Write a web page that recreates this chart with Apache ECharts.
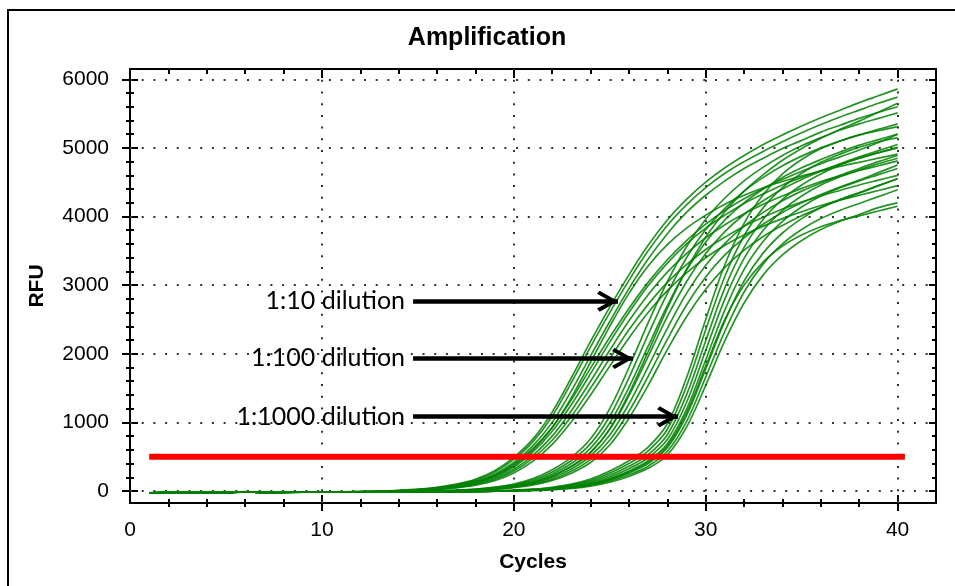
<!DOCTYPE html>
<html><head><meta charset="utf-8">
<script src="https://cdn.jsdelivr.net/npm/echarts@6/dist/echarts.min.js"></script>
<style>html,body{margin:0;padding:0;background:#fff}#c{width:955px;height:586px}</style>
</head><body><div id="c"></div>
<script>
// ---------- data ----------
const cycles = [1,2,3,4,5,6,7,8,9,10,11,12,13,14,15,16,17,18,19,20,21,22,23,24,25,26,27,28,29,30,31,32,33,34,35,36,37,38,39,40];

// 1:10 dilution
const g1a = [-30,-22,-18,-24,-22,-12,-20,-18,-16,-15,-13,-10,-4,8,26,54,100,172,295,490,760,1150,1650,2180,2680,3150,3580,3950,4250,4500,4710,4890,5050,5190,5320,5440,5550,5660,5760,5860];
const g1b = [-28,-20,-17,-22,-21,-10,-19,-17,-15,-14,-12,-9,-5,6,22,48,90,158,272,460,720,1090,1580,2100,2600,3070,3500,3870,4170,4420,4630,4800,4950,5090,5220,5340,5450,5550,5650,5740];
const g1c = [-32,-24,-20,-23,-24,-14,-21,-19,-17,-16,-14,-12,-6,4,18,42,80,142,245,415,660,1000,1460,1970,2470,2950,3380,3750,4060,4310,4520,4700,4850,4990,5110,5230,5330,5430,5520,5600];
const g1d = [-29,-21,-19,-23,-20,-11,-18,-18,-16,-14,-13,-11,-6,3,16,38,74,132,228,390,620,930,1330,1790,2240,2660,3040,3370,3650,3890,4090,4260,4410,4540,4660,4770,4870,4970,5080,5200];
const g1e = [-31,-23,-18,-25,-23,-13,-20,-19,-17,-15,-14,-12,-8,2,14,33,66,118,205,350,570,870,1260,1710,2170,2600,2990,3320,3600,3830,4020,4190,4330,4460,4570,4670,4760,4850,4930,5010];
const g1f = [-27,-21,-17,-21,-20,-11,-18,-16,-15,-14,-12,-10,-8,1,12,30,58,105,185,318,520,800,1170,1600,2050,2480,2860,3190,3460,3690,3880,4040,4180,4300,4410,4510,4590,4670,4740,4810];
const g1g = [-30,-23,-19,-24,-22,-13,-19,-18,-17,-15,-13,-11,-9,0,10,26,52,95,168,290,478,740,1090,1500,1930,2350,2720,3040,3300,3520,3700,3860,3990,4110,4210,4300,4380,4460,4530,4600];
const g1h = [-33,-25,-20,-25,-24,-15,-22,-20,-18,-17,-15,-13,-9,-1,8,22,46,85,150,262,435,680,1010,1400,1820,2230,2600,2920,3180,3400,3580,3730,3860,3970,4070,4160,4240,4310,4380,4450];
const g1i = [-29,-22,-18,-23,-21,-12,-20,-17,-16,-15,-13,-10,-7,3,15,36,70,126,218,372,600,920,1360,1880,2400,2880,3280,3590,3830,4020,4180,4310,4420,4510,4590,4660,4730,4790,4850,4910];

// 1:100 dilution
const g2A = [-30,-22,-19,-24,-22,-12,-20,-18,-17,-16,-14,-12,-10,-8,-4,2,12,28,56,102,180,310,490,760,1200,1800,2450,3050,3560,3960,4270,4520,4720,4890,5030,5150,5260,5350,5430,5510];
const g2B = [-28,-21,-17,-22,-20,-11,-19,-17,-15,-15,-13,-12,-11,-9,-5,0,9,24,48,90,160,278,445,690,1090,1650,2280,2880,3400,3810,4120,4370,4570,4740,4880,5000,5100,5190,5270,5350];
const g2C = [-31,-23,-20,-24,-23,-13,-21,-19,-17,-16,-15,-13,-11,-9,-6,-1,7,20,42,80,142,248,400,625,990,1510,2110,2700,3220,3630,3950,4200,4400,4570,4710,4830,4940,5040,5120,5200];
const g2D = [-29,-22,-18,-23,-21,-12,-19,-18,-16,-15,-14,-13,-12,-10,-7,-2,5,17,37,70,125,220,360,565,900,1390,1960,2540,3050,3460,3780,4030,4230,4400,4540,4660,4770,4870,4960,5050];
const g2E = [-32,-24,-20,-25,-23,-14,-21,-20,-18,-16,-15,-13,-12,-10,-8,-3,3,14,32,62,110,195,322,510,815,1270,1810,2370,2880,3290,3610,3860,4060,4230,4370,4490,4600,4700,4800,4890];
const g2F = [-28,-21,-18,-22,-21,-11,-18,-17,-16,-14,-13,-12,-12,-11,-8,-4,2,11,28,55,98,172,288,460,740,1160,1670,2210,2710,3120,3440,3690,3890,4060,4200,4320,4430,4530,4640,4750];
const g2G = [-30,-23,-19,-23,-22,-13,-20,-18,-17,-15,-14,-13,-13,-11,-9,-5,1,9,24,48,88,155,260,415,670,1060,1540,2060,2540,2940,3260,3510,3710,3870,4010,4130,4240,4340,4450,4550];
const g2H = [-31,-22,-18,-24,-22,-12,-20,-19,-16,-15,-13,-11,-10,-9,-6,-1,6,17,36,68,122,215,355,560,905,1420,2030,2660,3230,3700,4070,4370,4610,4820,4990,5140,5270,5390,5520,5650];

// 1:1000 dilution
const g3a = [-30,-22,-18,-24,-22,-12,-20,-18,-17,-16,-15,-14,-13,-12,-11,-10,-8,-4,2,12,28,55,100,175,290,440,640,980,1650,2500,3300,3900,4320,4620,4830,4990,5100,5190,5250,5310];
const g3b = [-29,-21,-17,-23,-21,-11,-19,-17,-16,-15,-14,-13,-12,-11,-10,-9,-8,-5,0,9,23,47,88,155,260,400,585,900,1530,2350,3130,3720,4130,4420,4630,4790,4910,5010,5090,5150];
const g3c = [-31,-23,-19,-25,-23,-13,-21,-19,-18,-17,-16,-15,-14,-13,-12,-11,-9,-6,-1,7,19,40,76,136,230,360,530,820,1400,2190,2960,3550,3960,4250,4460,4620,4750,4850,4930,5000];
const g3d = [-28,-22,-18,-22,-21,-12,-19,-18,-16,-15,-14,-13,-13,-12,-11,-10,-9,-6,-2,5,16,34,66,120,205,325,485,750,1290,2050,2800,3390,3800,4090,4300,4460,4580,4680,4770,4850];
const g3e = [-32,-24,-20,-24,-24,-14,-22,-20,-18,-17,-16,-15,-14,-13,-12,-11,-10,-7,-3,4,13,29,57,105,182,292,440,690,1190,1910,2640,3230,3640,3930,4140,4300,4420,4520,4610,4700];
const g3f = [-30,-22,-19,-23,-22,-12,-20,-18,-17,-16,-15,-14,-13,-12,-11,-10,-9,-7,-3,3,11,25,50,93,162,262,400,630,1100,1780,2480,3060,3470,3760,3970,4130,4250,4350,4450,4550];
const g3g = [-29,-21,-18,-23,-20,-11,-19,-17,-16,-15,-14,-14,-13,-12,-11,-10,-9,-8,-4,2,9,21,44,82,144,236,362,575,1010,1660,2330,2900,3310,3600,3810,3970,4090,4190,4290,4390];
const g3h = [-31,-23,-19,-24,-23,-13,-21,-19,-17,-16,-15,-15,-14,-13,-12,-11,-10,-8,-4,1,8,18,38,72,128,212,330,525,930,1540,2190,2740,3150,3440,3650,3810,3930,4030,4130,4200];
const g3i = [-30,-22,-18,-24,-21,-12,-20,-18,-17,-15,-14,-13,-13,-12,-11,-10,-9,-7,-3,3,12,27,53,98,170,275,420,660,1140,1820,2500,3000,3340,3570,3730,3850,3940,4010,4080,4150];

const curves = [g1a,g1b,g1c,g1d,g1e,g1f,g1g,g1h,g1i,g2A,g2B,g2C,g2D,g2E,g2F,g2G,g2H,g3a,g3b,g3c,g3d,g3e,g3f,g3g,g3h,g3i];

// threshold
const thresholdRFU = 500;
const thresholdCycles = [1, 40.38];

// annotations
const arrowLabels = ['1:10 dilution', '1:100 dilution', '1:1000 dilution'];
const arrowRFU = [2767, 1932, 1082];
const arrowStartCycle = [14.75, 14.75, 14.75];
const arrowTipCycle = [25.43, 26.21, 28.56];

// axes ticks / labels
const xLabelValues = [0, 10, 20, 30, 40];
const xMajorTicks = [10, 20, 30, 40];
const xMinorTicks = [2,4,6,8,12,14,16,18,22,24,26,28,32,34,36,38];
const xGridValues = [10, 20, 30, 40];
const yLabelValues = [0, 1000, 2000, 3000, 4000, 5000, 6000];
const yMajorTicks = [0, 1000, 2000, 3000, 4000, 5000, 6000];
const yMinorTicks = [200,400,600,800,1200,1400,1600,1800,2200,2400,2600,2800,3200,3400,3600,3800,4200,4400,4600,4800,5200,5400,5600,5800];
const yGridValues = [0, 1000, 2000, 3000, 4000, 5000, 6000];
const X_RANGE = [0, 42];
const Y_RANGE = [-175, 6150];

// ---------- chart ----------
const FONT = '"Liberation Sans", Arial, sans-serif';
const CHEVRON = 'path://M10,0L10,0M10,20L20,37.5L17.1,40L10,27.5L2.9,40L0,37.5Z';

function tickAxis(kind, pos, ticks, len, inside) {
  return {
    type: 'value', position: pos,
    min: kind === 'x' ? X_RANGE[0] : Y_RANGE[0],
    max: kind === 'x' ? X_RANGE[1] : Y_RANGE[1],
    axisLine: { show: false, onZero: false },
    axisTick: { show: true, customValues: ticks, length: len, inside: inside,
                lineStyle: { color: '#000', width: 2 } },
    axisLabel: { show: false },
    splitLine: { show: false }
  };
}

const xAxes = [
  {
    type: 'value', position: 'bottom', min: X_RANGE[0], max: X_RANGE[1],
    axisLine: { show: true, onZero: false, lineStyle: { color: '#000', width: 2 } },
    axisTick: { show: true, customValues: xMajorTicks, length: 8, inside: false,
                lineStyle: { color: '#000', width: 2 } },
    axisLabel: { show: true, customValues: xLabelValues, margin: 17, fontSize: 21,
                 fontFamily: FONT, color: '#000', formatter: v => String(v) },
    splitLine: { show: false },
    name: 'Cycles', nameLocation: 'middle', nameGap: 49,
    nameTextStyle: { fontSize: 21, fontWeight: 'bold', fontFamily: FONT, color: '#000' }
  },
  tickAxis('x', 'bottom', xMajorTicks, 8, true),
  tickAxis('x', 'bottom', xMinorTicks, 4, false),
  tickAxis('x', 'bottom', xMinorTicks, 4, true),
  tickAxis('x', 'top', xMinorTicks, 5, true),
  tickAxis('x', 'top', xMajorTicks, 9, true)
];

const yAxes = [
  {
    type: 'value', position: 'left', min: Y_RANGE[0], max: Y_RANGE[1],
    axisLine: { show: true, onZero: false, lineStyle: { color: '#000', width: 2 } },
    axisTick: { show: true, customValues: yMajorTicks, length: 8, inside: false,
                lineStyle: { color: '#000', width: 2 } },
    axisLabel: { show: true, customValues: yLabelValues, margin: 21, fontSize: 21,
                 fontFamily: FONT, color: '#000', formatter: v => String(v) },
    splitLine: { show: false },
    name: 'RFU', nameLocation: 'middle', nameGap: 82,
    nameTextStyle: { fontSize: 21, fontWeight: 'bold', fontFamily: FONT, color: '#000' }
  },
  tickAxis('y', 'left', yMajorTicks, 8, true),
  tickAxis('y', 'left', yMinorTicks, 4, false),
  tickAxis('y', 'left', yMinorTicks, 4, true),
  tickAxis('y', 'right', yMajorTicks, 7, true),
  tickAxis('y', 'right', yMinorTicks, 4, true)
];

const series = [];
series.push({
  type: 'line', data: [], silent: true, z: 1,
  markLine: {
    silent: true, z: 1, symbol: 'none', animation: false,
    label: { show: false }, emphasis: { disabled: true },
    lineStyle: { type: [2, 9.7], width: 2, color: '#333' },
    data: [
      ...yGridValues.map(v => ({ yAxis: v })),
      ...xGridValues.map(v => ({ xAxis: v }))
    ]
  }
});
curves.forEach(vals => {
  series.push({
    type: 'line', silent: true, z: 2, animation: false,
    data: cycles.map((c, i) => [c, vals[i]]),
    showSymbol: false, symbol: 'none', smooth: 0.35,
    lineStyle: { color: 'rgba(0,128,0,0.85)', width: 1.7 },
    emphasis: { disabled: true }
  });
});
series.push({
  type: 'line', silent: true, z: 3, animation: false,
  data: thresholdCycles.map(c => [c, thresholdRFU]),
  showSymbol: false, symbol: 'none',
  lineStyle: { color: '#ff0000', width: 6, cap: 'butt' },
  emphasis: { disabled: true }
});
series.push({
  type: 'line', data: [], silent: true, z: 6,
  markLine: {
    silent: true, z: 6, animation: false, emphasis: { disabled: true },
    lineStyle: { color: '#000', width: 4.5, type: 'solid' },
    label: { show: true, position: 'start', formatter: '{b}', fontSize: 25,
             fontFamily: 'Lato, "Open Sans", sans-serif', color: '#000', distance: 8 },
    data: arrowLabels.map((name, i) => [
      { name: name, coord: [arrowStartCycle[i], arrowRFU[i]], symbol: 'none' },
      { coord: [arrowTipCycle[i], arrowRFU[i]], symbol: CHEVRON, symbolSize: [21, 42] }
    ])
  }
});

const chart = echarts.init(document.getElementById('c'), null, { renderer: 'canvas' });
chart.setOption({
  animation: false,
  backgroundColor: '#fff',
  title: {
    text: 'Amplification', left: 487, top: 26, textAlign: 'center', padding: 0,
    textStyle: { fontSize: 25, fontWeight: 'bold', fontFamily: FONT, color: '#000' }
  },
  grid: { left: 130, top: 69, right: 19, bottom: 83, show: true,
          borderColor: '#000', borderWidth: 2, backgroundColor: 'transparent' },
  xAxis: xAxes,
  yAxis: yAxes,
  graphic: [{
    type: 'rect', silent: true, z: 0,
    shape: { x: 8, y: 10, width: 1200, height: 1200 },
    style: { fill: 'none', stroke: '#000', lineWidth: 2 }
  }],
  series: series
});
</script>
</body></html>
